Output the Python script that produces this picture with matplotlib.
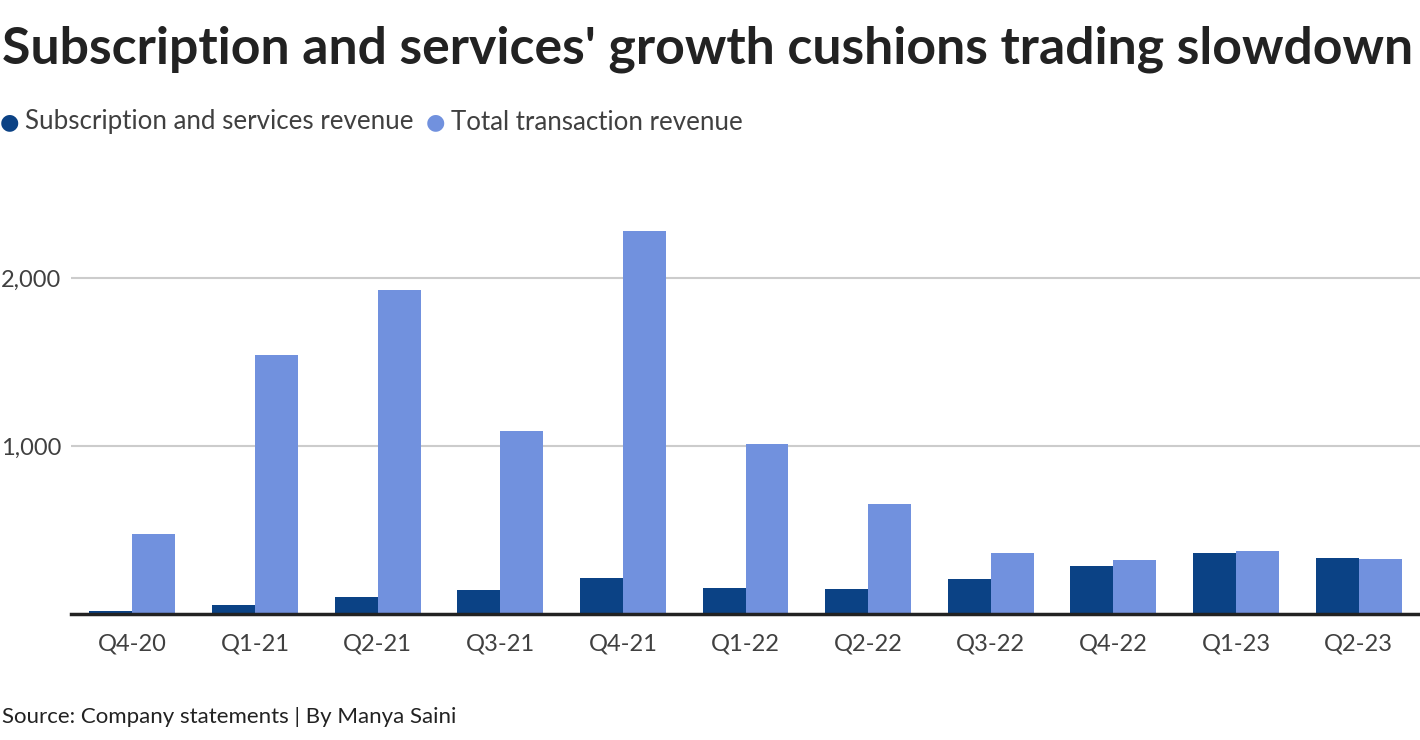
import numpy as np
import matplotlib
matplotlib.use('Agg')
from matplotlib import pyplot as plt

# data ($ millions)
quarters = ['Q4-20', 'Q1-21', 'Q2-21', 'Q3-21', 'Q4-21', 'Q1-22',
            'Q2-22', 'Q3-22', 'Q4-22', 'Q1-23', 'Q2-23']
subscription = [19, 56, 103, 145, 215, 153, 151, 211, 283, 362, 335]
transaction = [477, 1541, 1930, 1087, 2277, 1011, 656, 366, 322, 375, 327]
series_names = ['Subscription and services revenue', 'Total transaction revenue']
yticks = [1000, 2000]

DARK = '#0b4285'
LIGHT = '#7191de'
FONT = 'Lato'
GREY = '#404040'

fig = plt.figure(figsize=(14.2, 7.4), dpi=100)
ax = fig.add_axes([71 / 1420, 126 / 740, 1 - 71 / 1420, 420 / 740])

x = np.arange(len(quarters))
w = 0.35
ax.bar(x - w / 2, subscription, width=w, color=DARK, zorder=3)
ax.bar(x + w / 2, transaction, width=w, color=LIGHT, zorder=3)

ax.set_xlim(-0.5, len(quarters) - 0.5)
ax.set_ylim(0, 2500)
ax.set_yticks(yticks)
ax.set_yticklabels([f'{v:,}' for v in yticks], fontsize=17, color=GREY,
                   family=FONT)
ax.set_xticks(x)
ax.set_xticklabels(quarters, fontsize=17, color=GREY, family=FONT)
ax.tick_params(axis='both', length=0)
ax.tick_params(axis='x', pad=14)
ax.tick_params(axis='y', pad=7)
ax.grid(axis='y', color='#cccccc', linewidth=1.5, zorder=0)
for s in ['top', 'right', 'left']:
    ax.spines[s].set_visible(False)
ax.spines['bottom'].set_linewidth(2.5)
ax.spines['bottom'].set_color('#222222')
ax.spines['bottom'].set_zorder(4)

fig.text(2, 740 - 49, "Subscription and services' growth cushions trading slowdown",
         transform=None, fontsize=37.3, fontweight='bold', family=FONT,
         color='#222222', va='center', ha='left')

# legend as dots and text
fig.text(0, 740 - 122, '\u25cf', transform=None, fontsize=16, color=DARK,
         va='center', ha='left')
fig.text(25, 740 - 122, series_names[0], transform=None, fontsize=18.6,
         color=GREY, family=FONT, va='center', ha='left')
fig.text(426, 740 - 122, '\u25cf', transform=None, fontsize=16, color=LIGHT,
         va='center', ha='left')
fig.text(451, 740 - 122, series_names[1], transform=None, fontsize=18.6,
         color=GREY, family=FONT, va='center', ha='left')

fig.text(2, 740 - 717, 'Source: Company statements | By Manya Saini', transform=None,
         fontsize=16, color='#222222', family=FONT, va='center', ha='left')

fig.savefig('out.png', dpi=100)
